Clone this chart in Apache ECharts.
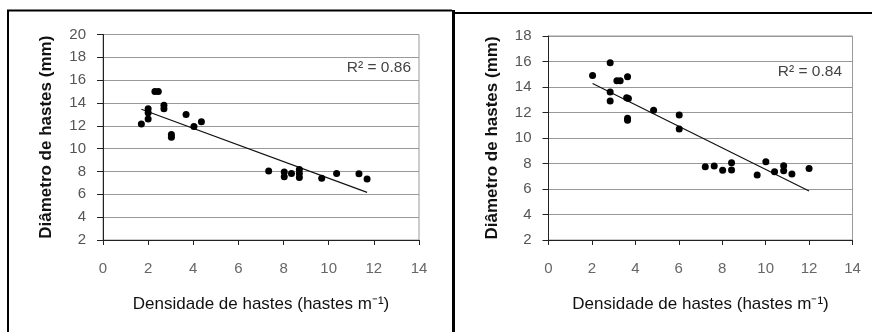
<!DOCTYPE html>
<html>
<head>
<meta charset="utf-8">
<script src="https://cdn.jsdelivr.net/npm/echarts@6/dist/echarts.min.js"></script>
<style>
html,body{margin:0;padding:0;background:#fff;}
#c{width:872px;height:332px;}
</style>
</head>
<body>
<div id="c"></div>
<script>
// ---- data ----
var xTickValues = [0, 2, 4, 6, 8, 10, 12, 14];
var leftYTicks = [2, 4, 6, 8, 10, 12, 14, 16, 18, 20];
var rightYTicks = [2, 4, 6, 8, 10, 12, 14, 16, 18];

var leftX = [1.7, 2.0, 2.0, 2.0, 2.3, 2.45, 2.7, 2.7, 3.03, 3.03, 3.68, 4.03, 4.36,
             7.34, 8.03, 8.03, 8.35, 8.7, 8.7, 8.7, 9.69, 10.35, 11.34, 11.7];
var leftY = [12.15, 13.5, 13.15, 12.6, 15.0, 15.0, 13.8, 13.5, 11.25, 11.0, 13.0, 11.95, 12.35,
             8.04, 7.95, 7.54, 7.83, 8.18, 7.83, 7.48, 7.4, 7.83, 7.8, 7.34];
var leftTrendX = [1.7, 11.7];
var leftTrendY = [13.45, 6.17];
var leftR2 = "R² = 0.86";

var rightX = [2.03, 2.84, 2.84, 2.84, 3.15, 3.3, 3.64, 3.6, 3.68, 3.64, 3.64, 4.84, 6.02, 6.02,
              7.22, 7.63, 8.02, 8.43, 8.43, 9.61, 10.01, 10.41, 10.83, 10.83, 11.21, 12.0];
var rightY = [14.9, 15.9, 13.6, 12.9, 14.5, 14.5, 14.8, 13.15, 13.1, 11.55, 11.4, 12.18, 11.8, 10.7,
              7.75, 7.8, 7.48, 8.06, 7.5, 7.09, 8.13, 7.35, 7.82, 7.43, 7.17, 7.6];
var rightTrendX = [2.03, 12.0];
var rightTrendY = [14.27, 5.84];
var rightR2 = "R² = 0.84";

var xTitle = "Densidade de hastes (hastes m⁻¹)";
var yTitle = "Diâmetro de hastes (mm)";

function pairs(xs, ys){ return xs.map(function(x,i){ return [x, ys[i]]; }); }

var FONT = "Liberation Sans, Arial, sans-serif";

function xAxis(gi){
  return {
    gridIndex: gi, type: 'value', min: 0, max: 14, interval: 2,
    name: xTitle, nameLocation: 'middle', nameGap: 56,
    nameTextStyle: {fontFamily: FONT, fontSize: 17, color: '#111'},
    axisLine: {show: true, onZero: false, lineStyle: {color: '#222', width: 1}},
    axisTick: {show: true, length: 5, lineStyle: {color: '#222'}},
    axisLabel: {margin: 21, fontFamily: FONT, fontSize: 15, color: '#666',
                formatter: function(v){ return xTickValues.indexOf(v) >= 0 ? String(v) : ''; }},
    splitLine: {show: false}
  };
}
function yAxis(gi, min, max, ticks){
  return {
    gridIndex: gi, type: 'value', min: min, max: max, interval: 2,
    name: yTitle, nameLocation: 'middle', nameGap: 48,
    nameTextStyle: {fontFamily: FONT, fontSize: 17, fontWeight: 'bold', color: '#111'},
    axisLine: {show: true, lineStyle: {color: '#222', width: 1}},
    axisTick: {show: true, length: 6, lineStyle: {color: '#222'}},
    axisLabel: {margin: 17, fontFamily: FONT, fontSize: 15, color: '#555',
                formatter: function(v){ return ticks.indexOf(v) >= 0 ? String(v) : ''; }},
    splitLine: {show: true, lineStyle: {color: '#999', width: 1}}
  };
}

var chart = echarts.init(document.getElementById('c'), null, {renderer: 'canvas'});
chart.setOption({
  animation: false,
  backgroundColor: '#fff',
  grid: [
    {left: 103, top: 34.5, width: 316, height: 205.5, show: true, borderColor: '#999', borderWidth: 1},
    {left: 548.5, top: 36, width: 304, height: 204, show: true, borderColor: '#999', borderWidth: 1}
  ],
  xAxis: [xAxis(0), xAxis(1)],
  yAxis: [yAxis(0, 2, 20, leftYTicks), yAxis(1, 2, 18, rightYTicks)],
  series: [
    {type: 'line', xAxisIndex: 0, yAxisIndex: 0, data: pairs(leftTrendX, leftTrendY),
     symbol: 'none', lineStyle: {color: '#111', width: 1.2}, z: 2},
    {type: 'scatter', xAxisIndex: 0, yAxisIndex: 0, data: pairs(leftX, leftY),
     symbolSize: 7, itemStyle: {color: '#000', opacity: 1}, z: 3},
    {type: 'line', xAxisIndex: 1, yAxisIndex: 1, data: pairs(rightTrendX, rightTrendY),
     symbol: 'none', lineStyle: {color: '#111', width: 1.2}, z: 2},
    {type: 'scatter', xAxisIndex: 1, yAxisIndex: 1, data: pairs(rightX, rightY),
     symbolSize: 7, itemStyle: {color: '#000', opacity: 1}, z: 3}
  ],
  graphic: [
    // panel frames
    {type: 'line', shape: {x1: 8, y1: 10.5, x2: 8, y2: 332}, style: {stroke: '#000', lineWidth: 2}},
    {type: 'line', shape: {x1: 7, y1: 10.5, x2: 452, y2: 10.5}, style: {stroke: '#000', lineWidth: 2}},
    {type: 'line', shape: {x1: 453.5, y1: 10, x2: 453.5, y2: 332}, style: {stroke: '#000', lineWidth: 3}},
    {type: 'line', shape: {x1: 452, y1: 13, x2: 872, y2: 13}, style: {stroke: '#000', lineWidth: 2}},
    // R² labels
    {type: 'text', right: 872 - 411, top: 60,
     style: {text: leftR2, font: '15.5px ' + FONT, fill: '#444', textAlign: 'right'}},
    {type: 'text', right: 872 - 842, top: 64,
     style: {text: rightR2, font: '15.5px ' + FONT, fill: '#444', textAlign: 'right'}}
  ]
});
</script>
</body>
</html>
